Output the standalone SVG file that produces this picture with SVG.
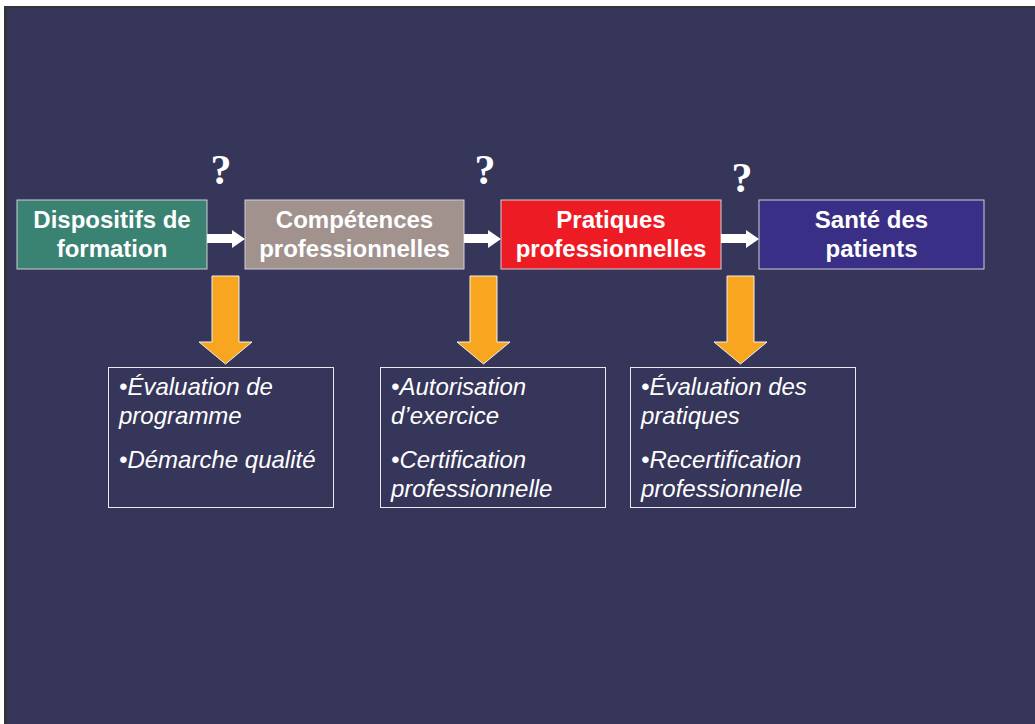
<svg xmlns="http://www.w3.org/2000/svg" width="1035" height="724" viewBox="0 0 1035 724">
<style>
.node{stroke:#d0d0d8;stroke-width:1}
.nt{font-family:"Liberation Sans",Arial,sans-serif;font-weight:bold;font-size:24px;fill:#ffffff;text-anchor:middle}
.q{font-family:"Liberation Serif","Times New Roman",serif;font-weight:bold;font-size:42px;fill:#ffffff;text-anchor:middle}
.box{fill:none;stroke:#e8e8ee;stroke-width:1}
.bt{font-family:"Liberation Sans",Arial,sans-serif;font-style:italic;font-size:24px;fill:#ffffff}
.wa{fill:#ffffff}
.oa{fill:#f8a61f;stroke:#f0f0f0;stroke-width:1}
</style>
<rect x="0" y="0" width="1035" height="724" fill="#ffffff"/>
<rect x="4" y="6" width="1031" height="718" fill="#333338"/>
<rect x="7" y="8" width="1028" height="716" fill="#36355a"/>

<g id="q1"><text class="q" x="221" y="184">?</text></g>
<g id="q2"><text class="q" x="485" y="184">?</text></g>
<g id="q3"><text class="q" x="742" y="192">?</text></g>

<g id="n1"><rect class="node" x="17" y="200" width="190" height="69" fill="#3a8373"/>
<text class="nt" x="112" y="228">Dispositifs de</text><text class="nt" x="112" y="257">formation</text></g>
<g id="n2"><rect class="node" x="245" y="200" width="219" height="69" fill="#a1928e"/>
<text class="nt" x="354.5" y="228">Compétences</text><text class="nt" x="354.5" y="257">professionnelles</text></g>
<g id="n3"><rect class="node" x="501" y="200" width="220" height="69" fill="#ed1c24"/>
<text class="nt" x="611" y="228">Pratiques</text><text class="nt" x="611" y="257">professionnelles</text></g>
<g id="n4"><rect class="node" x="759" y="200" width="225" height="69" fill="#3a2f86"/>
<text class="nt" x="871.5" y="228">Santé des</text><text class="nt" x="871.5" y="257">patients</text></g>

<g id="connectors">
<path class="wa" d="M207 234 H232 V230 L245 239 L232 248 V243 H207 Z"/>
<path class="wa" d="M464 234 H488 V230 L501 239 L488 248 V243 H464 Z"/>
<path class="wa" d="M721 234 H746 V230 L759 239 L746 248 V243 H721 Z"/>
<path class="oa" d="M212 276 H239 V342 H252 L225.5 364 L199 342 H212 Z"/>
<path class="oa" d="M470 276 H497 V342 H510 L483.5 364 L457 342 H470 Z"/>
<path class="oa" d="M727 276 H754 V342 H767 L740.5 364 L714 342 H727 Z"/>
</g>

<g id="b1"><rect class="box" x="108.5" y="367.5" width="225" height="140"/>
<text class="bt" x="119" y="395">•Évaluation de</text>
<text class="bt" x="119" y="424">programme</text>
<text class="bt" x="119" y="468">•Démarche qualité</text></g>
<g id="b2"><rect class="box" x="380.5" y="367.5" width="225" height="140"/>
<text class="bt" x="391" y="395">•Autorisation</text>
<text class="bt" x="391" y="424">d’exercice</text>
<text class="bt" x="391" y="468">•Certification</text>
<text class="bt" x="391" y="497">professionnelle</text></g>
<g id="b3"><rect class="box" x="630.5" y="367.5" width="225" height="140"/>
<text class="bt" x="641" y="395">•Évaluation des</text>
<text class="bt" x="641" y="424">pratiques</text>
<text class="bt" x="641" y="468">•Recertification</text>
<text class="bt" x="641" y="497">professionnelle</text></g>
</svg>
